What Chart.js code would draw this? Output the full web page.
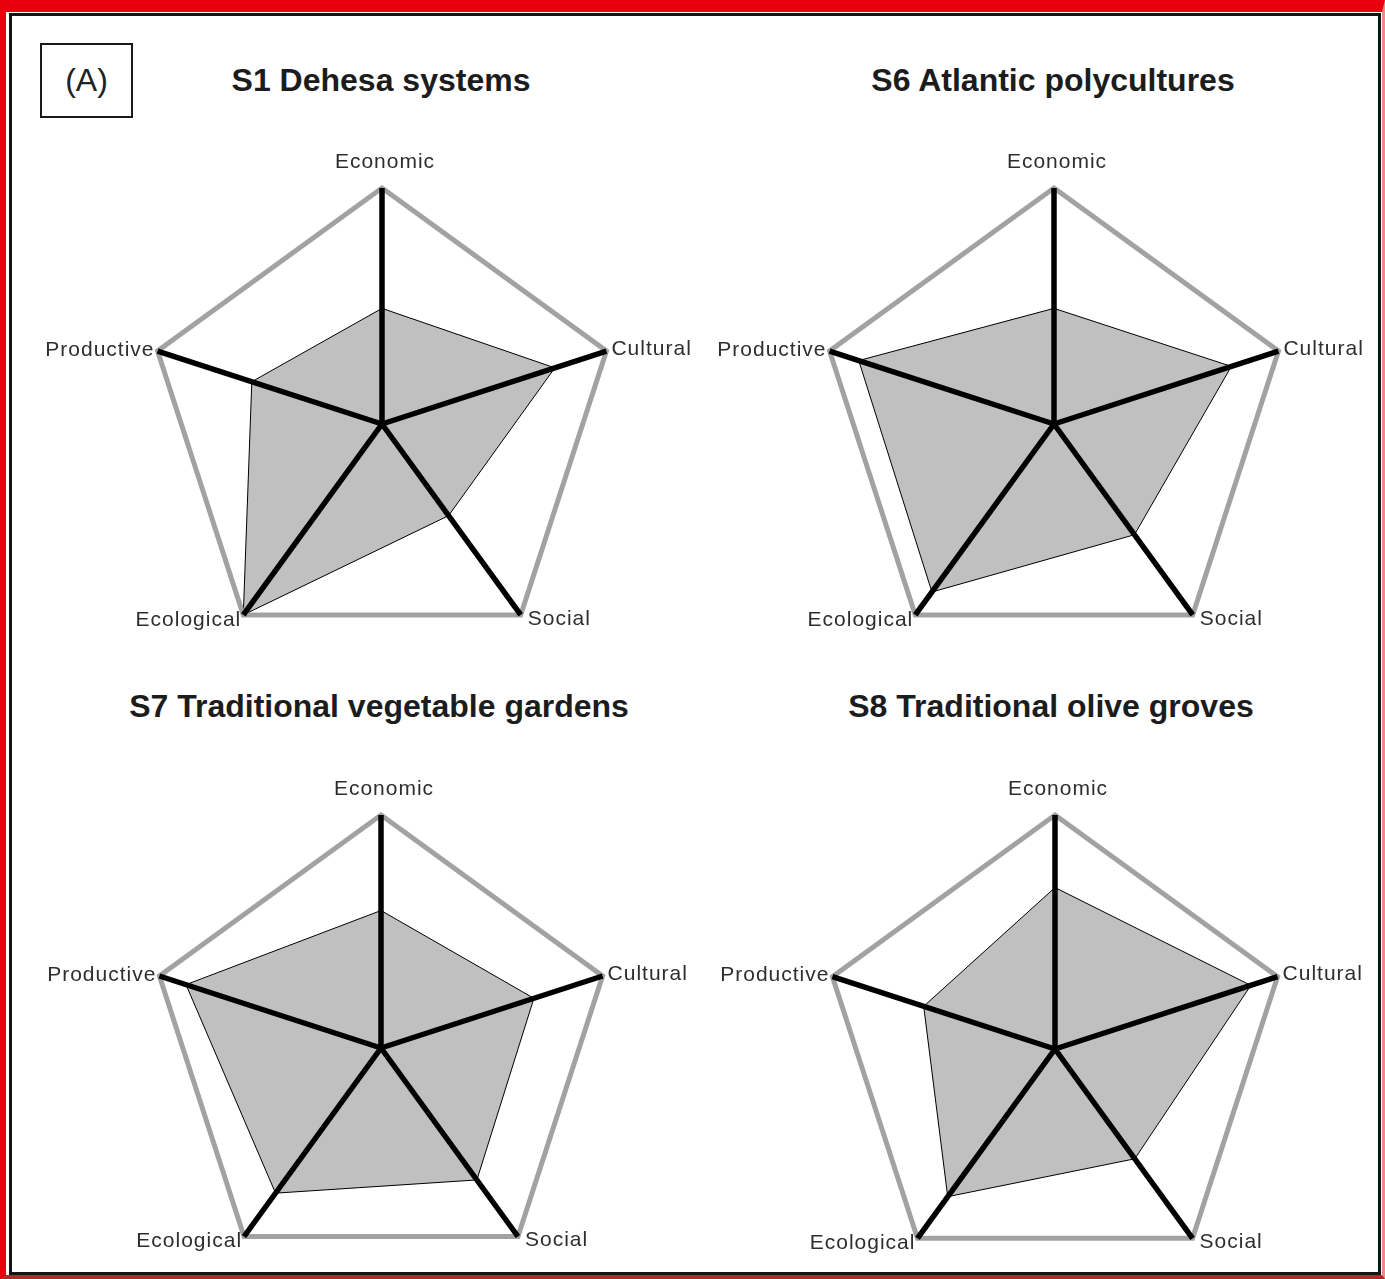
<!DOCTYPE html>
<html>
<head>
<meta charset="utf-8">
<title>Sustainability dimensions of agroforestry systems</title>
<script src="https://cdn.jsdelivr.net/npm/chart.js@4/dist/chart.umd.min.js"></script>
<style>
  html, body { margin: 0; padding: 0; background: #ffffff; }
  body { width: 1385px; height: 1279px; overflow: hidden; position: relative; font-family: "Liberation Sans", Arial, sans-serif; }
  .outer { position: absolute; left: 0; top: 0; width: 1385px; height: 1279px; box-sizing: border-box;
           border-top: 12px solid #e9000c; border-left: 6px solid #e9000c; border-right: 3px solid #ef8a8a; border-bottom: 4px solid #b02a2a; }
  .frame { position: absolute; left: 9px; top: 13px; width: 1372px; height: 1262px; box-sizing: border-box; border: 3px solid #141414; }
  .tag { position: absolute; left: 40px; top: 43px; width: 93px; height: 75px; box-sizing: border-box; border: 2px solid #1a1a1a;
         font-size: 32px; line-height: 71px; text-align: center; color: #222; }
  .title { position: absolute; width: 700px; margin-left: -350px; text-align: center; font-weight: bold; font-size: 32px; color: #1c1c1c; line-height: 40px; }
  canvas { position: absolute; }
</style>
</head>
<body>
<div class="outer"></div>
<div class="frame"></div>
<div class="tag">(A)</div>
<div class="title" id="t1" style="left:381px; top:60px;"></div>
<div class="title" id="t2" style="left:1053px; top:60px;"></div>
<div class="title" id="t3" style="left:379px; top:686px;"></div>
<div class="title" id="t4" style="left:1051px; top:686px;"></div>
<canvas id="c1" width="680" height="580"></canvas>
<canvas id="c2" width="680" height="580"></canvas>
<canvas id="c3" width="680" height="580"></canvas>
<canvas id="c4" width="680" height="580"></canvas>
<script>
// Sustainability dimensions, clockwise from the top
const dimensions = ['Economic', 'Cultural', 'Social', 'Ecological', 'Productive'];

// System names
const systemTitles = [
  'S1 Dehesa systems',
  'S6 Atlantic polycultures',
  'S7 Traditional vegetable gardens',
  'S8 Traditional olive groves'
];

// Scores per dimension (0-10 scale), same order as dimensions
const s1Dehesa = [4.9, 7.7, 4.8, 10, 5.8];
const s6Atlantic = [4.9, 7.9, 5.8, 8.8, 8.7];
const s7Gardens = [5.9, 6.9, 7.0, 7.7, 8.8];
const s8Olive = [6.9, 8.8, 5.8, 7.8, 5.9];

const scoreMin = 0;
const scoreMax = 10;

const seriesList = [s1Dehesa, s6Atlantic, s7Gardens, s8Olive];

// Panel geometry: pentagon centre and radius on the page
const panels = [
  { cx: 382, cy: 424, r: 236 },
  { cx: 1054, cy: 424, r: 236 },
  { cx: 381, cy: 1048, r: 233 },
  { cx: 1055, cy: 1049, r: 234 }
];

// Where each dimension label sits relative to its outer vertex
const labelPlacement = [
  { dx: 3, dy: -26, align: 'center' },
  { dx: 5, dy: -2, align: 'left' },
  { dx: 7, dy: 4, align: 'left' },
  { dx: -2, dy: 5, align: 'right' },
  { dx: -3, dy: -1, align: 'right' }
];

// Draws the dimension names at the outer pentagon vertices
const vertexLabels = {
  id: 'vertexLabels',
  afterDraw(chart) {
    const scale = chart.scales.r;
    const ctx = chart.ctx;
    ctx.save();
    ctx.font = '21px "Liberation Sans", Arial, sans-serif';
    ctx.letterSpacing = '1px';
    ctx.fillStyle = '#2e2e2e';
    ctx.textBaseline = 'middle';
    chart.data.labels.forEach((name, i) => {
      const p = scale.getPointPositionForValue(i, scale.max);
      const place = labelPlacement[i];
      ctx.textAlign = place.align;
      ctx.fillText(name, p.x + place.dx, p.y + place.dy);
    });
    ctx.restore();
  }
};

const CW = 680, CH = 580;

seriesList.forEach((values, k) => {
  document.getElementById('t' + (k + 1)).textContent = systemTitles[k];
  const g = panels[k];
  const canvas = document.getElementById('c' + (k + 1));
  canvas.style.left = (g.cx - CW / 2) + 'px';
  canvas.style.top = (g.cy - CH / 2) + 'px';
  const padX = CW / 2 - g.r;
  const padY = CH / 2 - g.r;
  new Chart(canvas, {
    type: 'radar',
    data: {
      labels: dimensions,
      datasets: [{
        data: values,
        backgroundColor: '#c0c0c0',
        borderColor: '#000000',
        borderWidth: 1,
        pointRadius: 0,
        tension: 0,
        fill: true
      }]
    },
    options: {
      responsive: false,
      animation: false,
      events: [],
      layout: { padding: { left: padX, right: padX, top: padY, bottom: padY } },
      plugins: { legend: { display: false }, tooltip: { enabled: false } },
      scales: {
        r: {
          min: scoreMin,
          max: scoreMax,
          ticks: { display: false, stepSize: scoreMax, z: 1 },
          pointLabels: { display: false },
          grid: { color: '#a2a2a2', lineWidth: 5, z: 1 },
          angleLines: { display: true, color: '#000000', lineWidth: 5.5 }
        }
      }
    },
    plugins: [vertexLabels]
  });
});
</script>
</body>
</html>
